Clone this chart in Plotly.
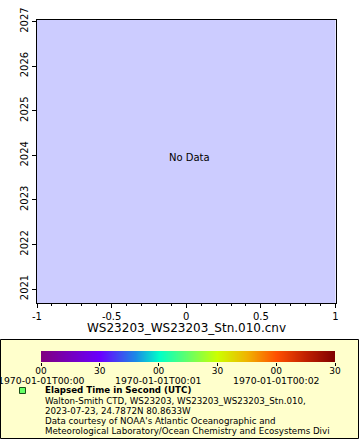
import plotly.graph_objects as go

# ---- data ----
x_ticks = [-1, -0.5, 0, 0.5, 1]
year_ticks = [2021, 2022, 2023, 2024, 2025, 2026, 2027]
elapsed_seconds = [0, 30, 60, 90, 120, 150]
elapsed_labels = ["00", "30", "00", "30", "00", "30"]
date_ticks = [0, 60, 120]
date_labels = ["1970-01-01T00:00", "1970-01-01T00:01", "1970-01-01T00:02"]
x_title = "WS23203_WS23203_Stn.010.cnv"
legend_title = "Elapsed Time in Second (UTC)"
legend_lines = [
    "Walton-Smith CTD, WS23203, WS23203_WS23203_Stn.010,",
    "2023-07-23, 24.7872N 80.8633W",
    "Data courtesy of NOAA's Atlantic Oceanographic and",
    "Meteorological Laboratory/Ocean Chemistry and Ecosystems Divi",
]

W, H = 360, 440
def px(x): return x / W
def py(y): return 1 - y / H

FONT = "DejaVu Sans"
colorscale = [
    [0.0, "#800080"], [0.2, "#6a00ff"], [0.32, "#1a8ae6"], [0.4, "#00ffc8"],
    [0.5, "#66ff66"], [0.6, "#ccff00"], [0.7, "#f0b400"], [0.8, "#ff5000"],
    [0.9, "#c02000"], [1.0, "#7f0000"],
]

fig = go.Figure()
fig.add_trace(go.Scatter(x=[], y=[], mode="markers", xaxis="x", yaxis="y",
                         showlegend=False))
fig.add_trace(go.Heatmap(x=elapsed_seconds, y=[0], z=[elapsed_seconds],
                         colorscale=colorscale, zmin=0, zmax=150, zsmooth="best",
                         showscale=False, xaxis="x2", yaxis="y2", hoverinfo="skip"))

axis_common = dict(showline=True, linecolor="black", linewidth=1, ticks="outside",
                   tickcolor="black", showgrid=False, zeroline=False, automargin=False,
                   tickfont=dict(family=FONT, size=10, color="black"))

fig.update_layout(
    template="none",
    autosize=True,
    margin=dict(l=0, r=0, t=0, b=0, pad=0),
    paper_bgcolor="white", plot_bgcolor="#ccccff",
    showlegend=False,
    xaxis=dict(domain=[px(37), px(335.5)], range=[-1, 1], tickvals=x_ticks,
               ticktext=["-1", "-0.5", "0", "0.5", "1"], ticklen=4, mirror=True,
               minor=dict(dtick=0.1, ticklen=2, ticks="outside", tickcolor="black"),
               anchor="y", **axis_common),
    yaxis=dict(domain=[py(303), py(20)], range=[2020.686, 2027.034], tickvals=year_ticks,
               ticklen=4, tickangle=-90, mirror=True, anchor="x", **axis_common),
    xaxis2=dict(domain=[px(41), px(335)], range=[0, 150], tickvals=elapsed_seconds,
                ticktext=elapsed_labels, ticks="outside", ticklen=3, tickcolor="black",
                showline=False, showgrid=False, zeroline=False, anchor="y2",
                automargin=False, ticklabelstandoff=-3,
                tickfont=dict(family=FONT, size=9, color="black")),
    yaxis2=dict(domain=[py(362), py(351)], range=[-0.5, 0.5], visible=False,
                anchor="x2", automargin=False),
)

shapes = [
    dict(type="rect", xref="paper", yref="paper", x0=px(0.5), x1=px(358.5),
         y0=py(438.5), y1=py(339.5), fillcolor="#ffffcc",
         line=dict(color="black", width=1), layer="below"),
    dict(type="rect", xref="paper", yref="paper", x0=px(19.5), x1=px(25.5),
         y0=py(393.5), y1=py(387.5), fillcolor="#66ff66",
         line=dict(color="#1a4d1a", width=1)),
]
fig.update_layout(shapes=shapes)

ann = []
ann.append(dict(text="No Data", x=0.02, y=(year_ticks[2] + year_ticks[3]) / 2 + 0.45,
                xref="x", yref="y", showarrow=False,
                font=dict(family=FONT, size=10, color="black")))
ann.append(dict(text=x_title, x=px(186), y=py(328), xref="paper", yref="paper",
                showarrow=False, font=dict(family=FONT, size=12, color="black"),
                xanchor="center", yanchor="middle"))
for v, t in zip(date_ticks, date_labels):
    ann.append(dict(text=t, x=v, y=py(380.5), xref="x2", yref="paper", showarrow=False,
                    xanchor="center", yanchor="middle",
                    font=dict(family=FONT, size=9.3, color="black")))
ann.append(dict(text="<b>" + legend_title + "</b>", x=px(43), y=py(390),
                xref="paper", yref="paper", showarrow=False, xanchor="left",
                yanchor="middle", font=dict(family=FONT, size=8.7, color="black")))
for i, line in enumerate(legend_lines):
    ann.append(dict(text=line, x=px(43), y=py(400.5 + 10.3 * i), xref="paper",
                    yref="paper", showarrow=False, xanchor="left", yanchor="middle",
                    font=dict(family=FONT, size=8.7, color="black")))
fig.update_layout(annotations=ann)

fig.write_html("out.html", default_width="100vw", default_height="100vh",
               config={"displayModeBar": False, "responsive": True},
               post_script="document.body.style.margin='0';"
                           "document.body.style.overflow='hidden';"
                           "window.dispatchEvent(new Event('resize'));")
